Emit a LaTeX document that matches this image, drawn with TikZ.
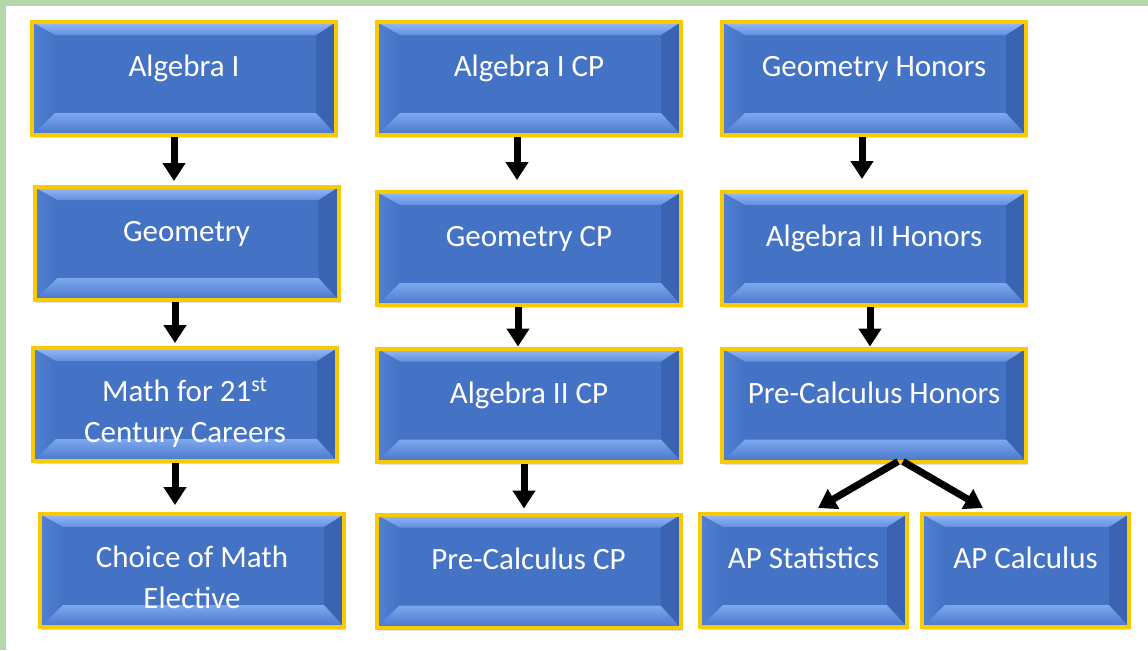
\documentclass[tikz,border=0pt]{standalone}
\usepackage{fontspec}
\setmainfont{Carlito}
\usetikzlibrary{arrows.meta,shadows}
\definecolor{facebl}{RGB}{68,114,196}
\definecolor{bevtoplight}{RGB}{150,188,246}
\definecolor{bevtopdark}{RGB}{98,142,222}
\definecolor{bevbotlight}{RGB}{125,168,238}
\definecolor{bevbotdark}{RGB}{72,118,202}
\definecolor{bevleft}{RGB}{82,128,210}
\definecolor{bevright}{RGB}{58,100,178}
\definecolor{goldrim}{RGB}{250,202,0}
\definecolor{framegreen}{RGB}{182,215,168}

\begin{document}
\begin{tikzpicture}[x=0.5pt, y=-0.5pt,
  course/.style={rectangle, minimum width=152pt, minimum height=56.5pt, inner sep=0pt,
    fill=facebl, draw=goldrim, line width=2pt, text=white, align=center,
    font=\fontsize{15.5}{20.5}\selectfont,
    drop shadow={shadow xshift=1pt, shadow yshift=-1.5pt, opacity=0.25},
    path picture={
      \coordinate (bnw) at (path picture bounding box.north west);
      \coordinate (bne) at (path picture bounding box.north east);
      \coordinate (bsw) at (path picture bounding box.south west);
      \coordinate (bse) at (path picture bounding box.south east);
      % bevel
      \shade[left color=bevleft, right color=facebl] (bnw) -- ([xshift=11.5pt,yshift=-6.5pt]bnw)
        -- ([xshift=11.5pt,yshift=11pt]bsw) -- (bsw) -- cycle;
      \fill[bevright] (bne) -- ([xshift=-10pt,yshift=-6.5pt]bne)
        -- ([xshift=-10pt,yshift=11pt]bse) -- (bse) -- cycle;
      \shade[top color=bevtoplight, bottom color=bevtopdark] (bnw) -- ([xshift=11.5pt,yshift=-6.5pt]bnw)
        -- ([xshift=-10pt,yshift=-6.5pt]bne) -- (bne) -- cycle;
      \shade[top color=bevbotlight, bottom color=bevbotdark] (bsw) -- ([xshift=11.5pt,yshift=11pt]bsw)
        -- ([xshift=-10pt,yshift=11pt]bse) -- (bse) -- cycle;
    }},
  oneline/.style={text height=10pt, text depth=12pt},
  twoline/.style={text height=40pt, text depth=2pt},
  flow/.style={-{Triangle[width=11pt,length=9pt]}, line width=3.5pt}]
  % frame
  \fill[white] (0,0) rectangle (1148,650);
  \fill[framegreen] (0,0) rectangle (1148,6);
  \fill[framegreen] (0,0) rectangle (6,650);
  \useasboundingbox (0,0) rectangle (1148,650);
  % first column
  \node[course, oneline] (alg1) at (184,78.5) {Algebra I};
  \node[course, oneline] (geo) at (186.5,243.5) {Geometry};
  \node[course, twoline] (m21) at (185,404.5) {Math for 21\textsuperscript{st}\\Century Careers};
  \node[course, twoline] (elec) at (192,570.5) {Choice of Math\\Elective};
  % second column
  \node[course, oneline] (alg1cp) at (529,78.5) {Algebra I CP};
  \node[course, oneline] (geocp) at (529,248.5) {Geometry CP};
  \node[course, oneline] (alg2cp) at (529,405) {Algebra II CP};
  \node[course, oneline] (precp) at (528.5,571) {Pre-Calculus CP};
  % third column
  \node[course, oneline] (geoh) at (874,78.5) {Geometry Honors};
  \node[course, oneline] (alg2h) at (874,248.5) {Algebra II Honors};
  \node[course, oneline] (preh) at (874,405) {Pre-Calculus Honors};
  \node[course, oneline, minimum width=103.5pt] (apstat) at (803.5,570.5) {AP Statistics};
  \node[course, oneline, minimum width=103.5pt] (apcalc) at (1025.5,570.5) {AP Calculus};
  % arrows
  \foreach \a/\b/\s/\g in {alg1/geo/-5/2, geo/m21/-5.75/1.5, m21/elec/-5/3.5,
      alg1cp/geocp/-6/5, geocp/alg2cp/-5.5/0, alg2cp/precp/-2.5/2,
      geoh/alg2h/-6/5.5, alg2h/preh/-2/0}
    \draw[flow, shorten >=\g pt] ([xshift=\s pt]\a.south) -- ([xshift=\s pt]\a.south |- \b.north);
  \draw[flow] ([xshift=12pt,yshift=1pt]preh.south) -- ([xshift=7.25pt,yshift=2pt]apstat.north);
  \draw[flow] ([xshift=14.5pt,yshift=1pt]preh.south) -- ([xshift=-21.25pt,yshift=2pt]apcalc.north);
\end{tikzpicture}
\end{document}
